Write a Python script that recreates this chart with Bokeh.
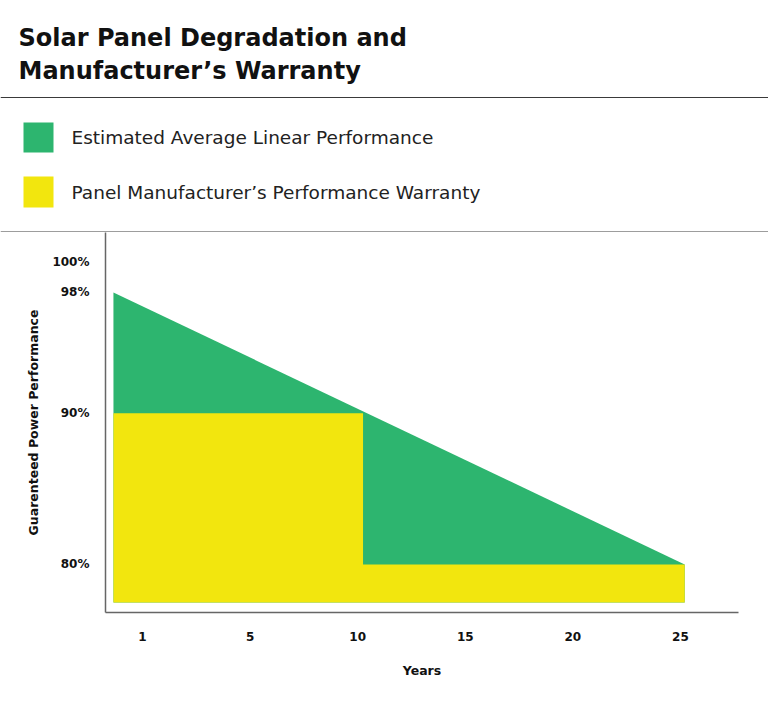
from bokeh.plotting import figure
from bokeh.models import Range1d, FixedTicker, PrintfTickFormatter
from bokeh.core.properties import value
from bokeh.embed import file_html
from bokeh.resources import INLINE

# ---- data ----
title_lines = ["Solar Panel Degradation and", "Manufacturer\u2019s Warranty"]
legend_labels = ["Estimated Average Linear Performance",
                 "Panel Manufacturer\u2019s Performance Warranty"]
x_tick_pos = [0, 1, 2, 3, 4, 5]
x_tick_labels = ["1", "5", "10", "15", "20", "25"]
y_ticks = [80, 90, 98, 100]
# positions on the (evenly spaced) year axis
perf_x = [-0.27, 5.04]
perf_y = [98, 80]
warranty_x = [-0.27, 2.05, 2.05, 5.04]
warranty_y = [90, 90, 80, 80]
base_y = 77.49

GREEN = "#2DB56F"
YELLOW = "#F2E60E"
LINE = "#3a3a3a"
FONT = "DejaVu Sans"
W = 768

# ---- header (title + legend), page pixel coordinates ----
hdr = figure(width=W, height=232, x_range=Range1d(0, W), y_range=Range1d(232, 0),
             x_axis_type=None, y_axis_type=None, toolbar_location=None,
             output_backend="svg", min_border=0)
hdr.outline_line_color = None
hdr.grid.visible = False
hdr.text(x=[18, 18], y=[37, 70], text=title_lines, text_font=value(FONT),
         text_font_style="bold", text_font_size="24px", text_color="#111111",
         text_baseline="alphabetic", text_align="left")
hdr.segment(x0=[0, 0], y0=[97, 231.5], x1=[W, W], y1=[97, 231.5],
            line_color=LINE, line_width=1)
hdr.quad(left=[23, 23], right=[53, 53], top=[122, 176], bottom=[152, 207],
         fill_color=[GREEN, YELLOW], line_color=None)
hdr.text(x=[71, 71], y=[137, 192], text=legend_labels, text_font=value(FONT),
         text_font_size="18.5px", text_color="#222222", text_baseline="middle",
         text_align="left")

# ---- chart ----
p = figure(width=W, height=469, x_range=Range1d(-0.344, 5.54),
           y_range=Range1d(76.82, 101.97), toolbar_location=None,
           output_backend="svg", min_border_left=105, min_border_right=30,
           min_border_top=0, min_border_bottom=89)
p.outline_line_color = None
p.grid.visible = False

green_x = perf_x + perf_x[::-1]
green_y = perf_y + [base_y, base_y]
p.patch(green_x, green_y, fill_color=GREEN, line_color=None)
yel_x = warranty_x + [warranty_x[-1], warranty_x[0]]
yel_y = warranty_y + [base_y, base_y]
p.patch(yel_x, yel_y, fill_color=YELLOW, line_color=None)

for ax in (p.xaxis[0], p.yaxis[0]):
    ax.axis_line_color = "#666666"
    ax.axis_line_width = 1.5
    ax.major_tick_line_color = None
    ax.minor_tick_line_color = None
    ax.major_label_text_font = FONT
    ax.major_label_text_font_style = "bold"
    ax.major_label_text_font_size = "12px"
    ax.major_label_text_color = "#111111"
    ax.axis_label_text_font = FONT
    ax.axis_label_text_font_style = "bold"
    ax.axis_label_text_font_size = "12.5px"
    ax.axis_label_text_color = "#111111"

p.xaxis.ticker = FixedTicker(ticks=x_tick_pos)
p.xaxis.major_label_overrides = {t: l for t, l in zip(x_tick_pos, x_tick_labels)}
p.xaxis.major_label_standoff = 13
p.xaxis.axis_label = "Years"
p.xaxis.axis_label_standoff = 19

p.yaxis.ticker = FixedTicker(ticks=y_ticks)
p.yaxis.formatter = PrintfTickFormatter(format="%d%%")
p.yaxis.major_label_standoff = 10
p.yaxis.axis_label = "Guarenteed Power Performance"
p.yaxis.axis_label_standoff = 8

open("out.html", "w").write(file_html([hdr, p], INLINE))
